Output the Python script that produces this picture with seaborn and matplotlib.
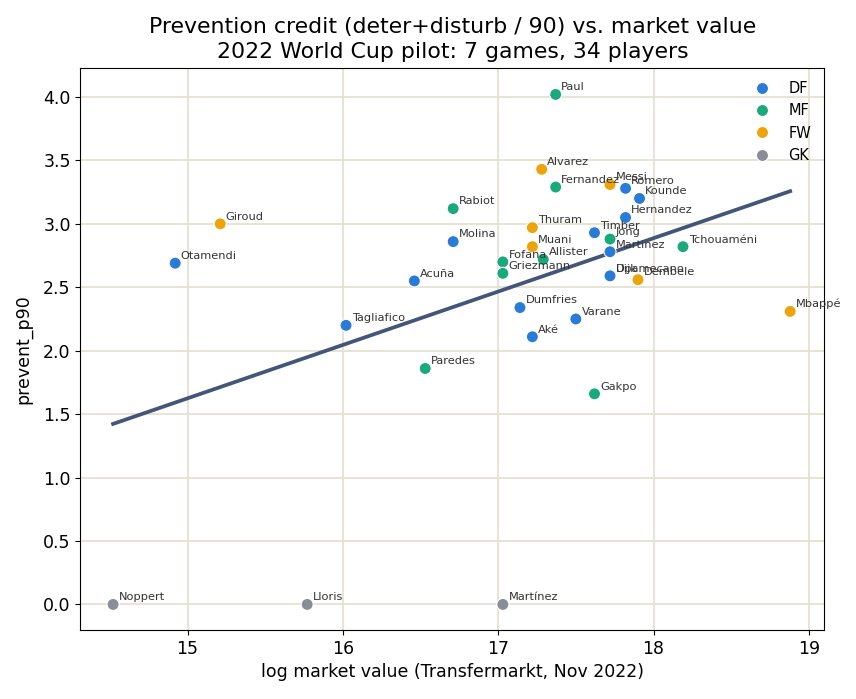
import seaborn as sns
import pandas as pd
import matplotlib.pyplot as plt

players = ["Paul", "Alvarez", "Fernandez", "Messi", "Romero", "Kounde", "Hernandez",
           "Rabiot", "Giroud", "Thuram", "Timber", "Jong", "Molina", "Muani",
           "Martinez", "Tchouaméni", "Otamendi", "Fofana", "Allister", "Griezmann",
           "Acuña", "Dijk", "Upamecano", "Dembele", "Mbappé", "Tagliafico",
           "Dumfries", "Varane", "Aké", "Paredes", "Gakpo", "Noppert", "Lloris", "Martínez"]
positions = ["MF", "FW", "MF", "FW", "DF", "DF", "DF",
             "MF", "FW", "FW", "DF", "MF", "DF", "FW",
             "DF", "MF", "DF", "MF", "MF", "MF",
             "DF", "DF", "DF", "FW", "FW", "DF",
             "DF", "DF", "DF", "MF", "MF", "GK", "GK", "GK"]
log_value = [17.37, 17.28, 17.37, 17.72, 17.82, 17.91, 17.82,
             16.71, 15.21, 17.22, 17.62, 17.72, 16.71, 17.22,
             17.72, 18.19, 14.92, 17.03, 17.29, 17.03,
             16.46, 17.72, 17.72, 17.90, 18.88, 16.02,
             17.14, 17.50, 17.22, 16.53, 17.62, 14.52, 15.77, 17.03]
prevent_p90 = [4.02, 3.43, 3.29, 3.31, 3.28, 3.20, 3.05,
               3.12, 3.00, 2.97, 2.93, 2.88, 2.86, 2.82,
               2.78, 2.82, 2.69, 2.70, 2.72, 2.61,
               2.55, 2.59, 2.59, 2.56, 2.31, 2.20,
               2.34, 2.25, 2.11, 1.86, 1.66, 0.0, 0.0, 0.0]

df = pd.DataFrame({"player": players, "pos": positions,
                   "log_mv": log_value, "prevent_p90": prevent_p90})

palette = {"DF": "#2a7ad8", "MF": "#1aa97a", "FW": "#eda30a", "GK": "#8a8d96"}

fig, ax = plt.subplots(figsize=(8.56, 6.99), dpi=100)

sns.regplot(x="log_mv", y="prevent_p90", data=df, scatter=False, ci=None,
            color="#43567a", line_kws={"lw": 2.7}, ax=ax)
sns.scatterplot(x="log_mv", y="prevent_p90", data=df, hue="pos",
                hue_order=["DF", "MF", "FW", "GK"], palette=palette,
                s=75, edgecolor="white", linewidth=0.8, zorder=3, ax=ax)

for _, r in df.iterrows():
    ax.annotate(r["player"], (r["log_mv"], r["prevent_p90"]), xytext=(4, 3),
                textcoords="offset points", fontsize=8.2, color="#333333")

ax.set_xlim(14.31, 19.1)
ax.set_ylim(-0.2, 4.23)
ax.grid(True, color="#e5e0d3", lw=1.3)
ax.set_axisbelow(True)
ax.tick_params(labelsize=12.5)
ax.set_xlabel("log market value (Transfermarkt, Nov 2022)", fontsize=12.5)
ax.set_ylabel("prevent_p90", fontsize=12.5, labelpad=7.5)
ax.set_title("Prevention credit (deter+disturb / 90) vs. market value\n2022 World Cup pilot: 7 games, 34 players",
             fontsize=15.8, linespacing=1.3, pad=7)
ax.legend(title=None, frameon=False, loc="upper right", fontsize=10.5)

plt.subplots_adjust(left=0.094, right=0.963, top=0.903, bottom=0.099)
plt.savefig("out.png", dpi=100)
